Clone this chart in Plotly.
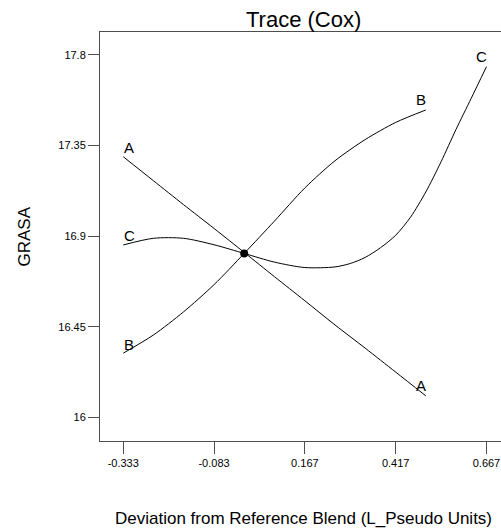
import plotly.graph_objects as go

# Deviation from reference blend (L_Pseudo units)
dev_ab = [-0.333, -0.25, -0.167, -0.083, 0.0, 0.083, 0.167, 0.25, 0.333, 0.417, 0.5]
dev_c = [-0.333, -0.25, -0.167, -0.083, 0.0, 0.083, 0.167, 0.25, 0.292, 0.333, 0.375,
         0.417, 0.458, 0.5, 0.542, 0.583, 0.625, 0.667]

# Predicted GRASA along each component trace
grasa_a = [17.295, 17.176, 17.057, 16.939, 16.82, 16.70, 16.58, 16.46, 16.345, 16.226, 16.108]
grasa_b = [16.32, 16.41, 16.525, 16.66, 16.815, 16.975, 17.14, 17.275, 17.38, 17.465, 17.527]
grasa_c = [16.857, 16.89, 16.89, 16.858, 16.815, 16.772, 16.745, 16.748, 16.765, 16.795, 16.843,
           16.905, 16.995, 17.12, 17.27, 17.43, 17.585, 17.742]

# Reference blend point
ref_x = [0.0]
ref_y = [16.815]

x_ticks = [-0.333, -0.083, 0.167, 0.417, 0.667]
x_tick_text = ["-0.333", "-0.083", "0.167", "0.417", "0.667"]
y_ticks = [16.0, 16.45, 16.9, 17.35, 17.8]
y_tick_text = ["16", "16.45", "16.9", "17.35", "17.8"]

FONT = "Arial, Liberation Sans, sans-serif"
AXIS = "#4d4d4d"

fig = go.Figure()

traces = [("A", dev_ab, grasa_a), ("B", dev_ab, grasa_b), ("C", dev_c, grasa_c)]
for name, xs, ys in traces:
    fig.add_trace(go.Scatter(
        x=xs, y=ys, mode="lines", name=name,
        line=dict(color="black", width=1, shape="spline", smoothing=0.8),
        hoverinfo="skip", showlegend=False,
    ))

fig.add_trace(go.Scatter(
    x=ref_x, y=ref_y, mode="markers",
    marker=dict(color="black", size=8),
    showlegend=False, hoverinfo="skip",
))

annotations = []
for name, xs, ys in traces:
    # label at the start of the trace (slightly right) and at the end (slightly left)
    annotations.append(dict(x=xs[0], y=ys[0], text=name, showarrow=False,
                            xanchor="center", yanchor="middle", xshift=6, yshift=9,
                            font=dict(family=FONT, size=15, color="black")))
    annotations.append(dict(x=xs[-1], y=ys[-1], text=name, showarrow=False,
                            xanchor="center", yanchor="middle", xshift=-5, yshift=10,
                            font=dict(family=FONT, size=15, color="black")))

annotations.append(dict(text="Deviation from Reference Blend (L_Pseudo Units)",
                        xref="paper", yref="paper", x=0.507, y=0, yshift=-77,
                        xanchor="center", yanchor="middle", showarrow=False,
                        font=dict(family=FONT, size=17, color="black")))
annotations.append(dict(text="GRASA", xref="paper", yref="paper", x=0, y=0.5,
                        xshift=-76, xanchor="center", yanchor="middle",
                        textangle=-90, showarrow=False,
                        font=dict(family=FONT, size=17, color="black")))
annotations.append(dict(text="Trace (Cox)", xref="paper", yref="paper", x=0.507, y=1,
                        yshift=13, xanchor="center", yanchor="middle", showarrow=False,
                        font=dict(family=FONT, size=22, color="black")))

fig.update_layout(
    width=501, height=531,
    margin=dict(l=100, r=0, t=32, b=90),
    plot_bgcolor="white", paper_bgcolor="white",
    annotations=annotations,
    xaxis=dict(range=[-0.397, 0.707], tickvals=x_ticks, ticktext=x_tick_text,
               showgrid=False, zeroline=False, showline=True, linecolor=AXIS,
               linewidth=1, mirror=True, ticks="outside", ticklen=12,
               tickcolor=AXIS, tickfont=dict(family=FONT, size=11, color="black")),
    yaxis=dict(range=[15.884, 17.914], tickvals=y_ticks, ticktext=y_tick_text,
               showgrid=False, zeroline=False, showline=True, linecolor=AXIS,
               linewidth=1, ticks="outside", ticklen=11,
               tickcolor=AXIS, tickfont=dict(family=FONT, size=11, color="black")),
)

fig.write_html("out.html")
